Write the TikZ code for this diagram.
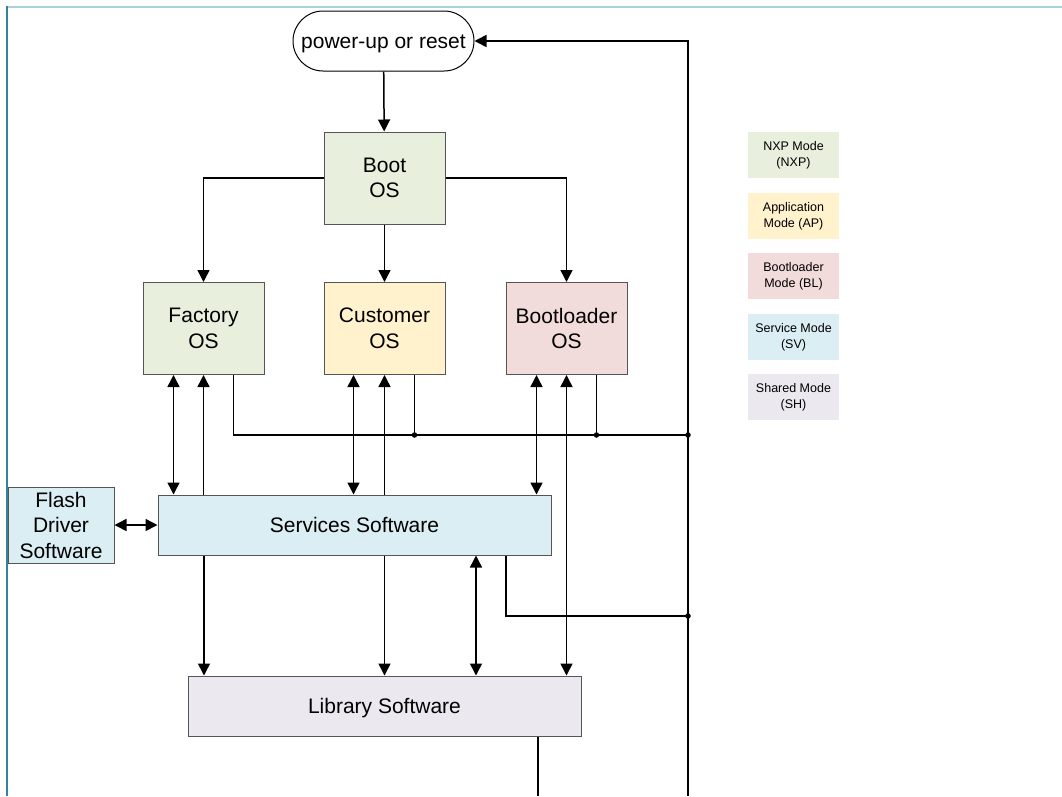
\documentclass[tikz,border=0pt]{standalone}
\usepackage{fontspec}
\setmainfont{Liberation Sans}
\usetikzlibrary{arrows.meta}
\definecolor{nxpc}{HTML}{E8EFDC}
\definecolor{apc}{HTML}{FFF2CC}
\definecolor{blc}{HTML}{F2DCDB}
\definecolor{svc}{HTML}{DBEEF3}
\definecolor{shc}{HTML}{EBE8EF}
\definecolor{frametop}{HTML}{A8D2DA}
\definecolor{frameleft}{HTML}{31849B}
\definecolor{edgec}{HTML}{555555}
\tikzset{
  bigfont/.style={font=\fontsize{21}{25.5}\selectfont},
  smallfont/.style={font=\fontsize{12.5}{16}\selectfont},
  osbox/.style={draw=edgec, line width=1pt, minimum width=121pt, minimum height=92pt, align=center, bigfont, inner sep=0pt},
  widebox/.style={draw=edgec, line width=1pt, minimum width=393pt, minimum height=60pt, align=center, bigfont, inner sep=0pt, text height=15pt, text depth=0pt},
  legbox/.style={minimum width=91pt, minimum height=46pt, align=center, smallfont, inner sep=0pt},
  conn/.style={line width=1.5pt, black},
  arr/.style={conn, -{Triangle[length=12pt,width=12pt]}},
  darr/.style={conn, {Triangle[length=12pt,width=12pt]}-{Triangle[length=12pt,width=12pt]}},
  dot/.style={circle, fill=black, inner sep=0pt, minimum size=5.5pt}
}
\begin{document}
\begin{tikzpicture}[x=1pt,y=-1pt]
\useasboundingbox (0,0) rectangle (1062,796);
% frame
\draw[frametop, line width=2pt] (7,6.5) -- (1062,6.5);
\draw[frameleft, line width=2pt] (7,5.5) -- (7,796);

% nodes
\node[draw=black, line width=1pt, rounded corners=30pt, minimum width=181pt, minimum height=60pt, bigfont, inner sep=0pt, text height=15pt, text depth=0pt] (pwr) at (383.5,41) {power-up or reset};
\node[osbox, fill=nxpc] (boot) at (384.5,178) {Boot\\OS};
\node[osbox, fill=nxpc] (fac) at (203.5,328.5) {Factory\\OS};
\node[osbox, fill=apc] (cus) at (384.5,328.5) {Customer\\OS};
\node[osbox, fill=blc] (bl) at (566.5,328.5) {Bootloader\\OS};
\node[widebox, fill=svc] (srv) at (354.5,525) {Services Software};
\node[draw=edgec, line width=1pt, fill=svc, minimum width=106pt, minimum height=76pt, align=center, bigfont, inner sep=0pt] (fl) at (61,525) {Flash\\Driver\\Software};
\node[widebox, fill=shc] (lib) at (384.5,706) {Library Software};

% legend
\node[legbox, fill=nxpc] (lnxp) at (793.5,155) {NXP Mode\\(NXP)};
\node[legbox, fill=apc] (lap) at (793.5,216) {Application\\Mode (AP)};
\node[legbox, fill=blc] (lbl) at (793.5,276) {Bootloader\\Mode (BL)};
\node[legbox, fill=svc] (lsv) at (793.5,337) {Service Mode\\(SV)};
\node[legbox, fill=shc] (lsh) at (793.5,397) {Shared Mode\\(SH)};

% bus coordinates
\coordinate (busbot) at (688,796);
\coordinate (j1) at (688,435);
\coordinate (j2) at (688,616);
\coordinate (libout) at (538,796);

% top
\draw[arr] (pwr) -- (boot);
\draw[arr] (boot.west) -| (fac.north);
\draw[arr] (boot) -- (cus);
\draw[arr] (boot.east) -| (bl.north);
\draw[arr] (busbot) |- (pwr.east);

% factory
\draw[darr] ([xshift=-30pt]fac.south) -- ([xshift=-30pt]fac.south |- srv.north);
\draw[arr] (fac.south |- srv.north) -- (fac.south);
\draw[conn] ([xshift=30pt]fac.south) |- (j1);
% customer
\draw[darr] ([xshift=-31pt]cus.south) -- ([xshift=-31pt]cus.south |- srv.north);
\draw[arr] (cus.south |- srv.north) -- (cus.south);
\draw[conn] ([xshift=30pt]cus.south) -- ([xshift=30pt]cus.south |- j1) node[dot] (d1) {};
% bootloader
\draw[darr] ([xshift=-30pt]bl.south) -- ([xshift=-30pt]bl.south |- srv.north);
\draw[darr] (bl.south) -- (bl.south |- lib.north);
\draw[conn] ([xshift=30pt]bl.south) -- ([xshift=30pt]bl.south |- j1) node[dot] (d2) {};
\node[dot] (d3) at (j1) {};

% services
\draw[darr] (fl.east) -- (srv.west);
\draw[arr] ([xshift=-180.5pt]lib.north |- srv.south) -- ([xshift=-180.5pt]lib.north);
\draw[arr] (lib.north |- srv.south) -- (lib.north);
\draw[darr] ([xshift=91.5pt]lib.north |- srv.south) -- ([xshift=91.5pt]lib.north);
\draw[conn] ([xshift=121.5pt]lib.north |- srv.south) |- (j2);
\node[dot] (d4) at (j2) {};

% library
\draw[conn] (libout |- lib.south) -- (libout);
\end{tikzpicture}
\end{document}
